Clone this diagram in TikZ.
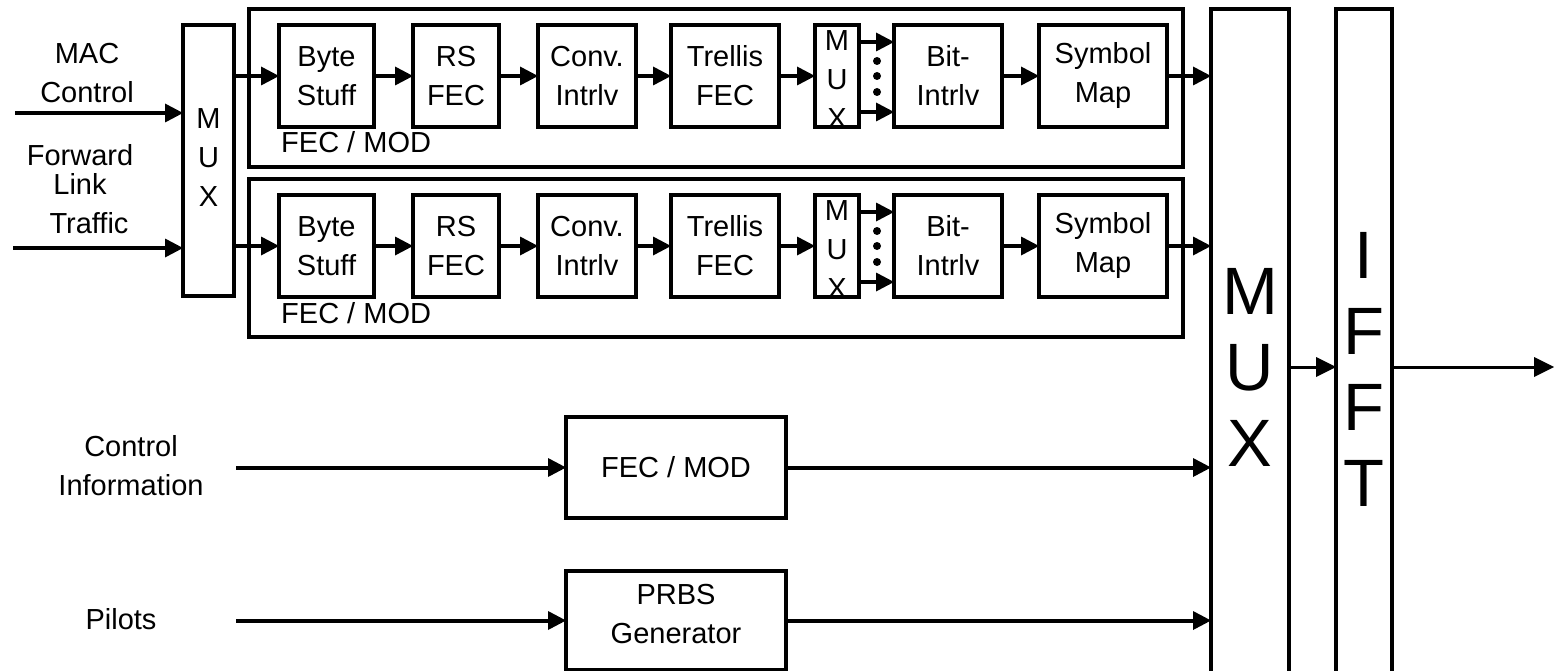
\documentclass[tikz,border=0pt]{standalone}
\usepackage{fontspec}
\setmainfont{Liberation Sans}
\usetikzlibrary{arrows.meta}

\tikzset{
  blk/.style={draw, line width=3.2pt, inner sep=0pt, outer sep=0pt, align=center,
    minimum height=102pt, font=\fontsize{29}{39}\selectfont},
  tall/.style={draw, line width=3.2pt, inner sep=0pt, outer sep=0pt},
  lbl/.style={inner sep=0pt, align=center, font=\fontsize{29}{39}\selectfont},
  biglbl/.style={inner sep=0pt, align=center, font=\fontsize{67}{76}\selectfont},
  conn/.style={line width=4pt, -{Triangle[length=18pt,width=19pt,line width=0pt]}},
  thinconn/.style={line width=3pt, -{Triangle[length=20pt,width=20pt,line width=0pt]}},
}

\begin{document}
\begin{tikzpicture}[x=1pt,y=-1pt]
  \useasboundingbox (0,0) rectangle (1554,671);
  \clip (0,0) rectangle (1554,671);

  % input mux and its two inputs
  \node[tall, minimum width=51pt, minimum height=271pt] (mux1) at (208.5,160.5) {};
  \node[lbl] (mux1txt) at (208.5,158) {M\\U\\X};
  \node[lbl] (mac) at (87,73) {MAC\\Control};
  \node[lbl] (fwd) at (80,169) {Forward\\[-10pt]Link};
  \node[lbl] (trf) at (89,223) {Traffic};
  \coordinate (macin) at (15,113);
  \coordinate (trfin) at (13,248);
  \draw[conn] (macin) -- (macin -| mux1.west);
  \draw[conn] (trfin) -- (trfin -| mux1.west);

  % output mux and IFFT
  \node[tall, minimum width=78pt, minimum height=691pt] (bmux) at (1250,354.5) {};
  \node[biglbl] (bmuxtxt) at (1250,367) {M\\U\\X};
  \node[tall, minimum width=56pt, minimum height=691pt] (ifft) at (1364,354.5) {};
  \node[biglbl] (iffttxt) at (1364,369) {I\\F\\F\\T};
  \coordinate (out) at (1554,367);
  \draw[thinconn] (bmuxtxt -| bmux.east) -- (bmuxtxt -| ifft.west);
  \draw[thinconn] (bmuxtxt -| ifft.east) -- (out);

  % the two FEC / MOD chains
  \foreach \r/\oy in {1/0,2/170}{
    \node[tall, minimum width=934pt, minimum height=158pt] (fm\r) at (716,88+\oy) {};
    \node[lbl, anchor=base west] (fmlbl\r) at (281,153+\oy) {FEC / MOD};
    \node[blk, minimum width=95pt] (bs\r) at (326.5,76+\oy) {Byte\\Stuff};
    \node[blk, minimum width=86pt] (rs\r) at (456,76+\oy) {RS\\FEC};
    \node[blk, minimum width=98pt] (ci\r) at (587,76+\oy) {Conv.\\Intrlv};
    \node[blk, minimum width=108pt] (tf\r) at (725,76+\oy) {Trellis\\FEC};
    \node[blk, minimum width=44pt] (mx\r) at (837,76+\oy) {};
    \node[lbl] (mxtxt\r) at (837,80+\oy) {M\\U\\X};
    \node[blk, minimum width=108pt] (bi\r) at (948,76+\oy) {Bit-\\Intrlv};
    \node[blk, minimum width=128pt] (sm\r) at (1103,76+\oy) {Symbol\\Map};
    \draw[conn] (mux1.east |- bs\r.west) -- (bs\r.west);
    \draw[conn] (bs\r) -- (rs\r);
    \draw[conn] (rs\r) -- (ci\r);
    \draw[conn] (ci\r) -- (tf\r);
    \draw[conn] (tf\r) -- (mx\r);
    \draw[conn] ([yshift=34pt]mx\r.east) -- ([yshift=34pt]mx\r.east -| bi\r.west);
    \draw[conn] ([yshift=-36pt]mx\r.east) -- ([yshift=-36pt]mx\r.east -| bi\r.west);
    \foreach \d in {61,76,92} \fill (877,\d+\oy) circle (4pt);
    \draw[conn] (bi\r) -- (sm\r);
    \draw[conn] (sm\r) -- (sm\r -| bmux.west);
  }

  % control information and pilots
  \node[lbl] (ctl) at (131,466) {Control\\Information};
  \node[lbl] (pil) at (121,619) {Pilots};
  \node[blk, minimum width=220pt, minimum height=101pt] (fec) at (676,467.5) {FEC / MOD};
  \node[tall, minimum width=220pt, minimum height=99pt] (prbs) at (676,620.5) {};
  \node[lbl] (prbstxt) at (676,614) {PRBS\\Generator};
  \coordinate (ctlin) at (236,467.5);
  \coordinate (pilin) at (236,620.5);
  \draw[conn] (ctlin) -- (fec.west);
  \draw[conn] (pilin) -- (prbs.west);
  \draw[conn] (fec.east) -- (fec.east -| bmux.west);
  \draw[conn] (prbs.east) -- (prbs.east -| bmux.west);
\end{tikzpicture}
\end{document}
